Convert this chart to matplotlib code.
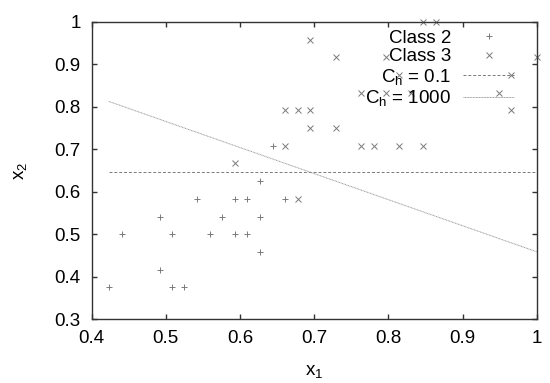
import matplotlib
matplotlib.use('Agg')
import matplotlib.pyplot as plt

plt.rcParams['font.family'] = ['Liberation Sans', 'DejaVu Sans']
plt.rcParams['mathtext.fontset'] = 'custom'
plt.rcParams['mathtext.rm'] = 'Liberation Sans'
plt.rcParams['mathtext.it'] = 'Liberation Sans'
plt.rcParams['mathtext.bf'] = 'Liberation Sans'

# Class 2 (+)
class2_x = [0.424, 0.441, 0.492, 0.492, 0.508, 0.508, 0.525, 0.542, 0.559, 0.576,
            0.593, 0.593, 0.610, 0.610, 0.627, 0.627, 0.627, 0.644, 0.661]
class2_y = [0.375, 0.500, 0.542, 0.417, 0.500, 0.375, 0.375, 0.583, 0.500, 0.542,
            0.583, 0.500, 0.583, 0.500, 0.625, 0.542, 0.458, 0.708, 0.583]

# Class 3 (x)
class3_x = [0.593, 0.678, 0.661, 0.694, 0.661, 0.678, 0.694, 0.694, 0.729, 0.729,
            0.763, 0.780, 0.814, 0.847, 0.763, 0.797, 0.831, 0.797, 0.814, 0.847,
            0.864, 0.949, 0.966, 0.966, 1.000]
class3_y = [0.667, 0.583, 0.708, 0.958, 0.792, 0.792, 0.792, 0.750, 0.917, 0.750,
            0.708, 0.708, 0.708, 0.708, 0.833, 0.833, 0.833, 0.917, 0.875, 1.000,
            1.000, 0.833, 0.875, 0.792, 0.917]

# Trennlinien
bound_x = [0.423, 1.0]
bound_c01 = [0.646, 0.646]
bound_c1000 = [0.813, 0.459]

grey = '#7a7a7a'
fs = 13.5

fig = plt.figure(figsize=(5.5, 3.83), dpi=100)
ax = fig.add_axes([0.1667, 0.1663, 0.8091, 0.7763])

ax.plot(class2_x, class2_y, linestyle='none', marker='+', ms=5, mew=0.7,
        color=grey, clip_on=False, label='Class 2')
ax.plot(class3_x, class3_y, linestyle='none', marker='x', ms=4, mew=0.7,
        color=grey, clip_on=False, label='Class 3')
ax.plot(bound_x, bound_c01, linestyle=(0, (3, 2)), lw=0.7, color=grey,
        label=r'C$_\mathrm{h}$ = 0.1')
ax.plot(bound_x, bound_c1000, linestyle=(0, (1, 0.6)), lw=0.7, color='#9a9a9a',
        label=r'C$_\mathrm{h}$ = 1000')

ax.set_xlim(0.4, 1.0)
ax.set_ylim(0.3, 1.0)
ax.set_xticks([0.4, 0.5, 0.6, 0.7, 0.8, 0.9, 1.0])
ax.set_xticklabels(['0.4', '0.5', '0.6', '0.7', '0.8', '0.9', '1'])
ax.set_yticks([0.3, 0.4, 0.5, 0.6, 0.7, 0.8, 0.9, 1.0])
ax.set_yticklabels(['0.3', '0.4', '0.5', '0.6', '0.7', '0.8', '0.9', '1'])

for s in ax.spines.values():
    s.set_color('#333333')
    s.set_linewidth(1.0)
ax.tick_params(direction='in', top=True, right=True, length=3.6, width=1.0,
               color='#333333', labelsize=fs, pad=8)

ax.set_xlabel(r'x$_1$', fontsize=fs, labelpad=11)
ax.set_ylabel(r'x$_2$', fontsize=fs, labelpad=18)

leg = ax.legend(loc='upper right', bbox_to_anchor=(0.949, 0.975), frameon=False,
                markerfirst=False, fontsize=fs, handlelength=2.7, handletextpad=0.65,
                labelspacing=0.08, borderpad=0, borderaxespad=0, numpoints=1)

fig.savefig('out.png', dpi=100)
